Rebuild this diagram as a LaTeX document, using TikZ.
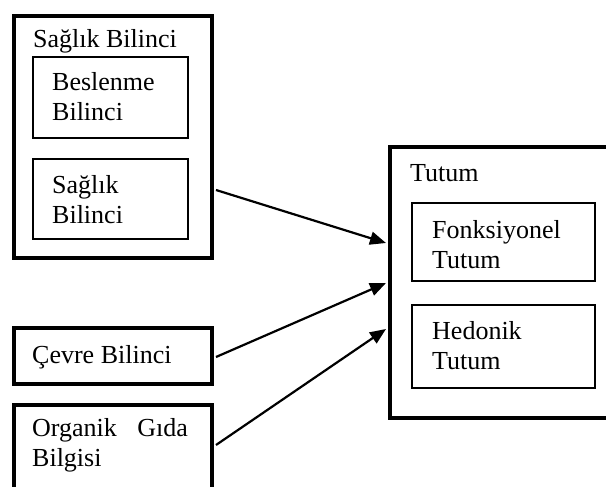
\documentclass[tikz,border=0pt]{standalone}
\usepackage{fontspec}
\setmainfont{Liberation Serif}
\usetikzlibrary{arrows.meta,calc}
\tikzset{
  bigbox/.style={draw, line width=4pt, rectangle, inner sep=0pt, anchor=north west},
  smallbox/.style={draw, line width=2pt, rectangle, inner sep=0pt, anchor=north west},
  lbl/.style={anchor=base west, inner sep=0pt, font=\fontsize{26}{30}\selectfont, align=left},
  arr/.style={line width=2.2pt, -{Triangle[length=16pt,width=13pt]}}
}
\begin{document}
\begin{tikzpicture}[x=1pt,y=-1pt]
\useasboundingbox (0,0) rectangle (606,487);
\clip (0,0) rectangle (606,487);
% left group
\node[bigbox, minimum width=198pt, minimum height=242pt] (sb) at (12,14) {};
\node[lbl] (sbt) at (33,48) {Sağlık Bilinci};
\node[smallbox, minimum width=155pt, minimum height=81pt] (bb) at (32,56) {};
\node[lbl] (bbt) at (52,121) {Beslenme\\Bilinci};
\node[smallbox, minimum width=155pt, minimum height=80pt] (sib) at (32,158) {};
\node[lbl] (sibt) at (52,223) {Sağlık\\Bilinci};
% cevre
\node[bigbox, minimum width=198pt, minimum height=56pt] (cb) at (12,326) {};
\node[lbl] (cbt) at (32,363) {Çevre Bilinci};
% organik
\node[bigbox, minimum width=198pt, minimum height=110pt] (og) at (12,403) {};
\node[lbl] (ogt) at (32,466) {Organik\hspace{14pt} Gıda\\Bilgisi};
% right group
\node[bigbox, minimum width=240pt, minimum height=271pt] (tu) at (388,145) {};
\node[lbl] (tut) at (410,182) {Tutum};
\node[smallbox, minimum width=183pt, minimum height=78pt] (ft) at (411,202) {};
\node[lbl] (ftt) at (432,268) {Fonksiyonel\\Tutum};
\node[smallbox, minimum width=183pt, minimum height=83pt] (ht) at (411,304) {};
\node[lbl] (htt) at (432,369) {Hedonik\\Tutum};
% arrows
\draw[arr] ($(sb.north east)+(2,176)$) -- ($(tu.north west)+(-2,98)$);
\draw[arr] ($(cb.north east)+(2,31)$) -- ($(tu.north west)+(-2,138)$);
\draw[arr] ($(og.north east)+(2,42)$) -- ($(tu.north west)+(-2,184)$);
\end{tikzpicture}
\end{document}
